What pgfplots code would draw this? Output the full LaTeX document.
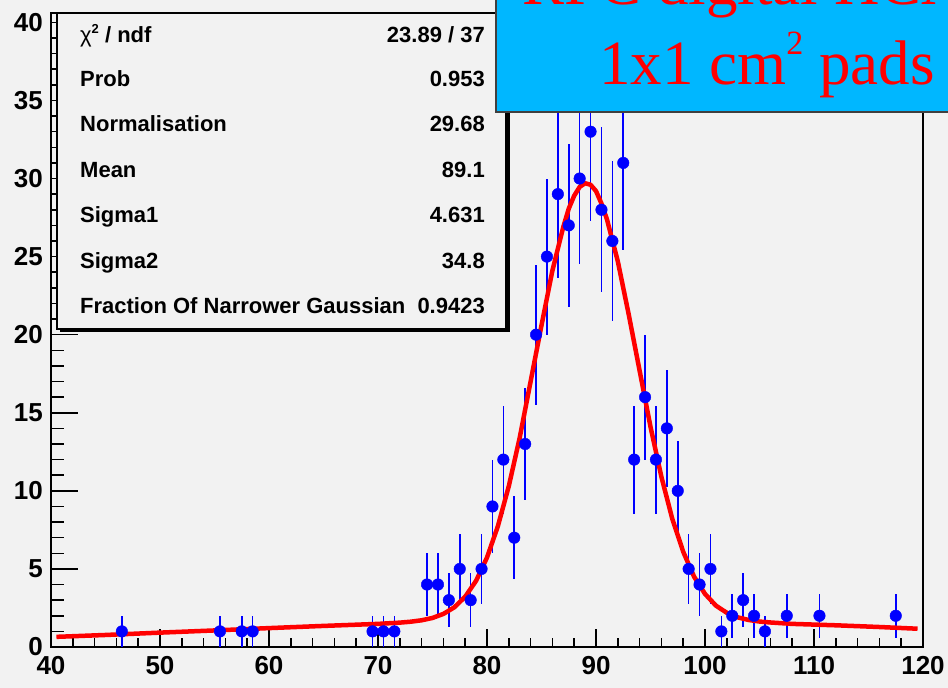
\documentclass[border=0pt]{standalone}
\usepackage{pgfplots}
\usepackage{pgfplotstable}
\pgfplotsset{compat=1.18}
\usepackage{fontspec}
\setmainfont{Liberation Sans}
\newfontfamily\timesfont{Liberation Serif}
\definecolor{bgray}{RGB}{242,242,242}
\definecolor{skyb}{RGB}{0,183,255}

% bin centre, entries, sqrt(entries)
\pgfplotstableread{
x y ey
46.5 1 1
55.5 1 1
57.5 1 1
58.5 1 1
69.5 1 1
70.5 1 1
71.5 1 1
74.5 4 2
75.5 4 2
76.5 3 1.732
77.5 5 2.236
78.5 3 1.732
79.5 5 2.236
80.5 9 3
81.5 12 3.464
82.5 7 2.646
83.5 13 3.606
84.5 20 4.472
85.5 25 5
86.5 29 5.385
87.5 27 5.196
88.5 30 5.477
89.5 33 5.745
90.5 28 5.292
91.5 26 5.099
92.5 31 5.568
93.5 12 3.464
94.5 16 4
95.5 12 3.464
96.5 14 3.742
97.5 10 3.162
98.5 5 2.236
99.5 4 2
100.5 5 2.236
101.5 1 1
102.5 2 1.414
103.5 3 1.732
104.5 2 1.414
105.5 1 1
107.5 2 1.414
110.5 2 1.414
117.5 2 1.414
}\hits

\begin{document}
\begin{tikzpicture}[x=1pt,y=1pt]
\fill[bgray] (0,0) rectangle (948,688);

\pgfplotsset{
  frame/.style={
    at={(51pt,41pt)}, anchor=south west,
    scale only axis, width=872pt, height=634pt,
    xmin=40, xmax=120, ymin=0, ymax=40.6,
    axis line style={line width=1.5pt, black},
    tick align=inside,
    tick style={line width=1.5pt, black},
    /pgf/number format/assume math mode=true,
    ticklabel style={font=\bfseries\fontsize{26}{26}\selectfont, inner sep=0pt},
  }
}

% x axis ticks
\begin{axis}[frame,
  xtick={40,50,...,120}, minor x tick num=4, xtick pos=bottom,
  ytick=\empty,
  major tick length=18pt, minor tick length=9pt,
  x tick label style={yshift=-9pt},
]
\end{axis}

% y axis ticks and data
\begin{axis}[frame,
  xtick=\empty,
  ytick={0,5,...,40}, minor y tick num=4, ytick pos=left,
  major tick length=27pt, minor tick length=13pt,
  y tick label style={xshift=-8pt},
]
\addplot[only marks, blue, mark=*, mark size=5.8pt,
  error bars/.cd, y dir=both, y explicit, error mark=none,
  error bar style={line width=1.6pt}]
  table[x=x, y=y, y error=ey] {\hits};

\addplot[red, line width=4.5pt, line join=round] coordinates {
  (40.5,0.65) (45,0.77) (50,0.92) (55,1.06) (60,1.21) (65,1.35) (70,1.48)
  (72,1.56) (73,1.62) (74,1.71) (75,1.86) (76,2.12) (77,2.54) (78,3.22)
  (79,4.24) (80,5.73) (81,7.74) (82,10.3) (83,13.4) (84,17.0) (85,20.6)
  (86,24.1) (87,26.9) (87.5,28.07) (88,28.9) (88.5,29.46) (89,29.7)
  (89.5,29.6) (90,29.2) (90.5,28.4) (91,27.4) (92,24.7) (93,21.3) (94,17.7)
  (95,14.1) (96,10.9) (97,8.2) (98,6.1) (99,4.5) (100,3.4) (101,2.65)
  (102,2.19) (103,1.90) (104,1.73) (105,1.63) (106,1.57) (108,1.48)
  (112,1.39) (116,1.28) (119.5,1.17)
};
\end{axis}

% stats box
\fill[black] (60,356) rectangle (509.5,672);
\filldraw[fill=bgray, draw=black, line width=1.5pt] (57,359) rectangle (506,675);
\begin{scope}[every node/.style={inner sep=0pt, font=\bfseries\fontsize{22}{22}\selectfont}]
  \node[anchor=base west] at (80,645) {{\mdseries χ}\raisebox{9pt}{\fontsize{13}{13}\selectfont 2} / ndf};
  \node[anchor=base east] at (485,645) {23.89 / 37};
  \node[anchor=base west] at (80,601) {Prob};
  \node[anchor=base east] at (485,601) {0.953};
  \node[anchor=base west] at (80,556) {Normalisation};
  \node[anchor=base east] at (485,556) {29.68};
  \node[anchor=base west] at (80,510) {Mean};
  \node[anchor=base east] at (485,510) {89.1};
  \node[anchor=base west] at (80,465) {Sigma1};
  \node[anchor=base east] at (485,465) {4.631};
  \node[anchor=base west] at (80,419) {Sigma2};
  \node[anchor=base east] at (485,419) {34.8};
  \node[anchor=base west] at (80,374) {Fraction Of Narrower Gaussian};
  \node[anchor=base east] at (485,374) {0.9423};
\end{scope}

% title box
\filldraw[fill=skyb, draw=black!75, line width=1.5pt] (496,576) rectangle (1100,780);
\begin{scope}[every node/.style={inner sep=0pt, text=red, font=\timesfont\fontsize{63}{63}\selectfont}]
  \node[anchor=base] at (764,683) {RPC digital HCAL};
  \node[anchor=base] at (767,603) {1x1 cm\raisebox{30pt}{\fontsize{34}{34}\selectfont 2} pads};
\end{scope}

\pgfresetboundingbox
\useasboundingbox (0,0) rectangle (948,688);
\end{tikzpicture}
\end{document}
